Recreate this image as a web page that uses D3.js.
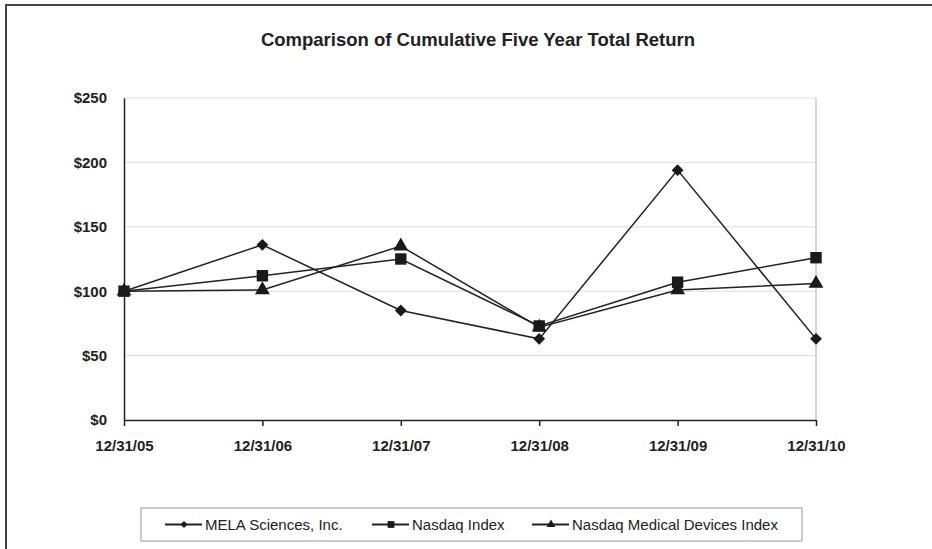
<!DOCTYPE html>
<html>
<head>
<meta charset="utf-8">
<script src="https://cdn.jsdelivr.net/npm/d3@7"></script>
<style>
  body { margin:0; background:#fff; }
  text { font-family: "Liberation Sans", Arial, sans-serif; fill:#222; }
</style>
</head>
<body>
<div id="plot"></div>
<script>
// data
var dates = ['12/31/05','12/31/06','12/31/07','12/31/08','12/31/09','12/31/10'];
var mela = [100, 136, 85, 63, 194, 63];
var nasdaq = [100, 112, 125, 73, 107, 126];
var medDevices = [100, 101, 135, 72, 101, 106];
var yTicks = [0, 50, 100, 150, 200, 250];
var seriesNames = ['MELA Sciences, Inc.', 'Nasdaq Index', 'Nasdaq Medical Devices Index'];

var W = 932, H = 549;
var margin = {t:98, r:116, b:129, l:124};
var width = W - margin.l - margin.r,
	height = H - margin.t - margin.b;

var svg = d3.select('#plot').append('svg')
	.attr('width', W).attr('height', H);

// outer frame (runs off the right and bottom edge)
svg.append('rect')
	.attr('x', 6).attr('y', 5)
	.attr('width', W + 10).attr('height', H + 10)
	.style('fill', 'none').style('stroke', '#444').style('stroke-width', 2);

svg.append('text')
	.attr('x', 478).attr('y', 46)
	.attr('text-anchor', 'middle')
	.style('font-size', '18.5px').style('font-weight', 'bold')
	.text('Comparison of Cumulative Five Year Total Return');

var plot = svg.append('g')
	.attr('transform', 'translate(' + margin.l + ',' + margin.t + ')');

var x = d3.scalePoint().domain(dates).range([0, width]);
var y = d3.scaleLinear().domain([0, 250]).range([height, 0]);

// gridlines
plot.selectAll('.grid').data(yTicks.slice(1)).enter().append('line')
	.attr('x1', 0).attr('x2', width)
	.attr('y1', function(d){ return y(d); }).attr('y2', function(d){ return y(d); })
	.style('stroke', '#ddd').style('stroke-width', 1);
// right border of plot area
plot.append('line')
	.attr('x1', width).attr('x2', width).attr('y1', 0).attr('y2', height)
	.style('stroke', '#aaa').style('stroke-width', 1);

// axes
var yAxis = plot.append('g')
	.call(d3.axisLeft(y).tickValues(yTicks).tickSize(0).tickPadding(17)
		.tickFormat(function(d){ return '$' + d; }));
yAxis.select('.domain').style('stroke', '#222').style('stroke-width', 1.5);
yAxis.selectAll('text').style('font-size', '15px').style('font-weight', 'bold').style('fill', '#222');

var xAxis = plot.append('g')
	.attr('transform', 'translate(0,' + height + ')')
	.call(d3.axisBottom(x).tickSize(6).tickSizeOuter(0).tickPadding(14));
xAxis.select('.domain').style('stroke', '#222').style('stroke-width', 1.5);
xAxis.selectAll('line').style('stroke', '#222').style('stroke-width', 1.5);
xAxis.selectAll('text').style('font-size', '15px').style('font-weight', 'bold').style('fill', '#222');

var allSeries = [mela, nasdaq, medDevices];
// diamond = square turned 45 degrees, wider than d3's own diamond
var symbols = [d3.symbolSquare, d3.symbolSquare, d3.symbolTriangle];
var rotate = [45, 0, 0];
var symSizes = [70, 130, 95];

var line = d3.line()
	.x(function(d, i){ return x(dates[i]); })
	.y(function(d){ return y(d); });

allSeries.forEach(function(vals, s) {
	plot.append('path')
		.attr('d', line(vals))
		.style('fill', 'none').style('stroke', '#222').style('stroke-width', 1.5);
	plot.selectAll('.m' + s).data(vals).enter().append('path')
		.attr('transform', function(d, i){
			return 'translate(' + x(dates[i]) + ',' + y(d) + ') rotate(' + rotate[s] + ')';
		})
		.attr('d', d3.symbol().type(symbols[s]).size(symSizes[s]))
		.style('fill', '#1a1a1a');
});

// legend
var legend = svg.append('g');
legend.append('rect')
	.attr('x', 141).attr('y', 508).attr('width', 661).attr('height', 33)
	.style('fill', '#fff').style('stroke', '#aaa').style('stroke-width', 1.2);
var legX = [165, 372, 532];
seriesNames.forEach(function(name, s) {
	legend.append('line')
		.attr('x1', legX[s]).attr('x2', legX[s] + 37).attr('y1', 524.5).attr('y2', 524.5)
		.style('stroke', '#222').style('stroke-width', 1.8);
	legend.append('path')
		.attr('transform', 'translate(' + (legX[s] + 19) + ',524.5) rotate(' + rotate[s] + ')')
		.attr('d', d3.symbol().type(symbols[s]).size(symSizes[s] * 0.35))
		.style('fill', '#1a1a1a');
	legend.append('text')
		.attr('x', legX[s] + 40).attr('y', 530)
		.style('font-size', '15px')
		.text(name);
});
</script>
</body>
</html>
